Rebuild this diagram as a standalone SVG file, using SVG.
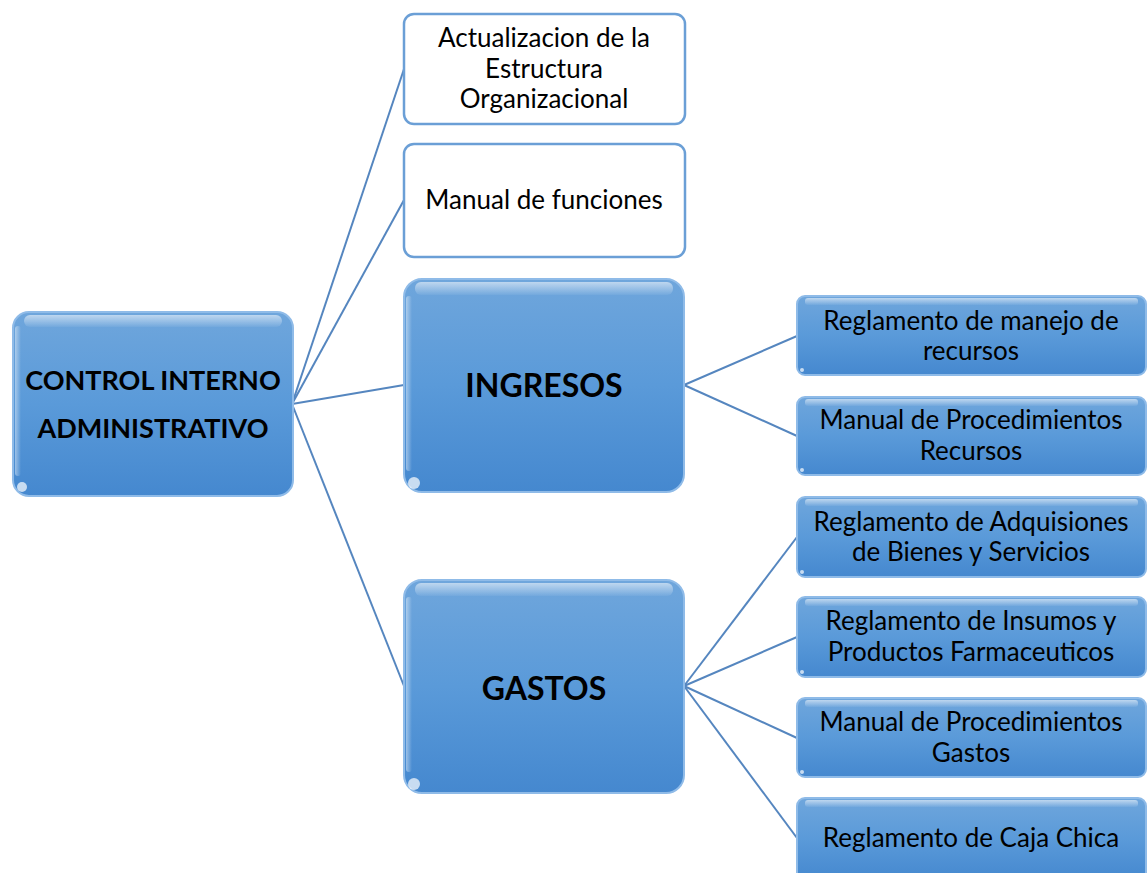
<svg xmlns="http://www.w3.org/2000/svg" width="1148" height="873" viewBox="0 0 1148 873">
  <defs>
    <linearGradient id="blueFill" x1="0" y1="0" x2="0" y2="1">
      <stop offset="0" stop-color="#6fa6dc"/>
      <stop offset="0.5" stop-color="#5a9ad9"/>
      <stop offset="1" stop-color="#4588cf"/>
    </linearGradient>
    <linearGradient id="gloss" x1="0" y1="0" x2="0" y2="1">
      <stop offset="0" stop-color="#ffffff" stop-opacity="0.55"/>
      <stop offset="1" stop-color="#ffffff" stop-opacity="0.05"/>
    </linearGradient>
    <linearGradient id="edgeGloss" x1="0" y1="0" x2="1" y2="0">
      <stop offset="0" stop-color="#ffffff" stop-opacity="0.45"/>
      <stop offset="1" stop-color="#ffffff" stop-opacity="0"/>
    </linearGradient>
  </defs>
  <style>
    .blue { fill: url(#blueFill); stroke: #8fbbe8; stroke-width: 2; }
    .white { fill: #ffffff; stroke: #6b9fd6; stroke-width: 2.5; }
    .shine { fill: url(#gloss); }
    .edge { fill: url(#edgeGloss); }
    .dot { fill: #ffffff; opacity: 0.7; }
    .t { font-family: Lato, "Liberation Sans", sans-serif; font-size: 26px; fill: #000000; text-anchor: middle; }
    .tb { font-family: Lato, "Liberation Sans", sans-serif; font-weight: bold; fill: #000000; text-anchor: middle; }
    .link { stroke: #5586bf; stroke-width: 2; fill: none; }
  </style>
  <rect width="1148" height="873" fill="#ffffff"/>

  <g id="connectors">
    <line class="link" x1="292" y1="404" x2="404" y2="69"/>
    <line class="link" x1="292" y1="404" x2="404" y2="200"/>
    <line class="link" x1="292" y1="404" x2="404" y2="385"/>
    <line class="link" x1="292" y1="404" x2="404" y2="686"/>
    <line class="link" x1="684" y1="385" x2="797" y2="336"/>
    <line class="link" x1="684" y1="385" x2="797" y2="436"/>
    <line class="link" x1="684" y1="686" x2="797" y2="537"/>
    <line class="link" x1="684" y1="686" x2="797" y2="637"/>
    <line class="link" x1="684" y1="686" x2="797" y2="738"/>
    <line class="link" x1="684" y1="686" x2="797" y2="838"/>
  </g>

  <g id="root">
    <rect class="blue" x="13" y="312" width="280" height="184" rx="16"/>
    <rect class="shine" x="24" y="315" width="258" height="12" rx="6"/>
    <rect class="edge" x="15" y="326" width="6" height="150" rx="3"/>
    <circle class="dot" cx="22" cy="487" r="5"/>
    <text class="tb" x="153" y="390" font-size="27">CONTROL INTERNO</text>
    <text class="tb" x="153" y="438" font-size="27">ADMINISTRATIVO</text>
  </g>

  <g id="estructura">
    <rect class="white" x="404" y="14" width="281" height="110" rx="10"/>
    <text class="t" x="544" y="47">Actualizacion de la</text>
    <text class="t" x="544" y="78">Estructura</text>
    <text class="t" x="544" y="108">Organizacional</text>
  </g>

  <g id="funciones">
    <rect class="white" x="404" y="144" width="281" height="113" rx="10"/>
    <text class="t" x="544" y="209">Manual de funciones</text>
  </g>

  <g id="ingresos">
    <rect class="blue" x="404" y="279" width="280" height="213" rx="18"/>
    <rect class="shine" x="415" y="282" width="258" height="13" rx="6"/>
    <rect class="edge" x="406" y="296" width="6" height="175" rx="3"/>
    <circle class="dot" cx="414" cy="483" r="6"/>
    <text class="tb" x="544" y="397" font-size="32">INGRESOS</text>
  </g>

  <g id="gastos">
    <rect class="blue" x="404" y="580" width="280" height="213" rx="18"/>
    <rect class="shine" x="415" y="583" width="258" height="13" rx="6"/>
    <rect class="edge" x="406" y="597" width="6" height="175" rx="3"/>
    <circle class="dot" cx="414" cy="784" r="6"/>
    <text class="tb" x="544" y="700" font-size="32">GASTOS</text>
  </g>

  <g id="manejo-recursos">
    <rect class="blue" x="797" y="296" width="349" height="79" rx="8"/>
    <rect class="shine" x="805" y="298" width="333" height="7" rx="3"/>
    <circle class="dot" cx="802" cy="370" r="2"/>
    <text class="t" x="971" y="330">Reglamento de manejo de</text>
    <text class="t" x="971" y="360">recursos</text>
  </g>

  <g id="proc-recursos">
    <rect class="blue" x="797" y="397" width="349" height="78" rx="8"/>
    <rect class="shine" x="805" y="399" width="333" height="7" rx="3"/>
    <circle class="dot" cx="802" cy="470" r="2"/>
    <text class="t" x="971" y="429">Manual de Procedimientos</text>
    <text class="t" x="971" y="460">Recursos</text>
  </g>

  <g id="adquisiciones">
    <rect class="blue" x="797" y="497" width="349" height="80" rx="8"/>
    <rect class="shine" x="805" y="499" width="333" height="7" rx="3"/>
    <circle class="dot" cx="802" cy="572" r="2"/>
    <text class="t" x="971" y="531">Reglamento de Adquisiones</text>
    <text class="t" x="971" y="561">de Bienes y Servicios</text>
  </g>

  <g id="insumos">
    <rect class="blue" x="797" y="597" width="349" height="80" rx="8"/>
    <rect class="shine" x="805" y="599" width="333" height="7" rx="3"/>
    <circle class="dot" cx="802" cy="672" r="2"/>
    <text class="t" x="971" y="630">Reglamento de Insumos y</text>
    <text class="t" x="971" y="661">Productos Farmaceuticos</text>
  </g>

  <g id="proc-gastos">
    <rect class="blue" x="797" y="698" width="349" height="79" rx="8"/>
    <rect class="shine" x="805" y="700" width="333" height="7" rx="3"/>
    <circle class="dot" cx="802" cy="772" r="2"/>
    <text class="t" x="971" y="731">Manual de Procedimientos</text>
    <text class="t" x="971" y="762">Gastos</text>
  </g>

  <g id="caja-chica">
    <rect class="blue" x="797" y="798" width="349" height="82" rx="8"/>
    <rect class="shine" x="805" y="800" width="333" height="7" rx="3"/>
    <text class="t" x="971" y="847">Reglamento de Caja Chica</text>
  </g>
</svg>
